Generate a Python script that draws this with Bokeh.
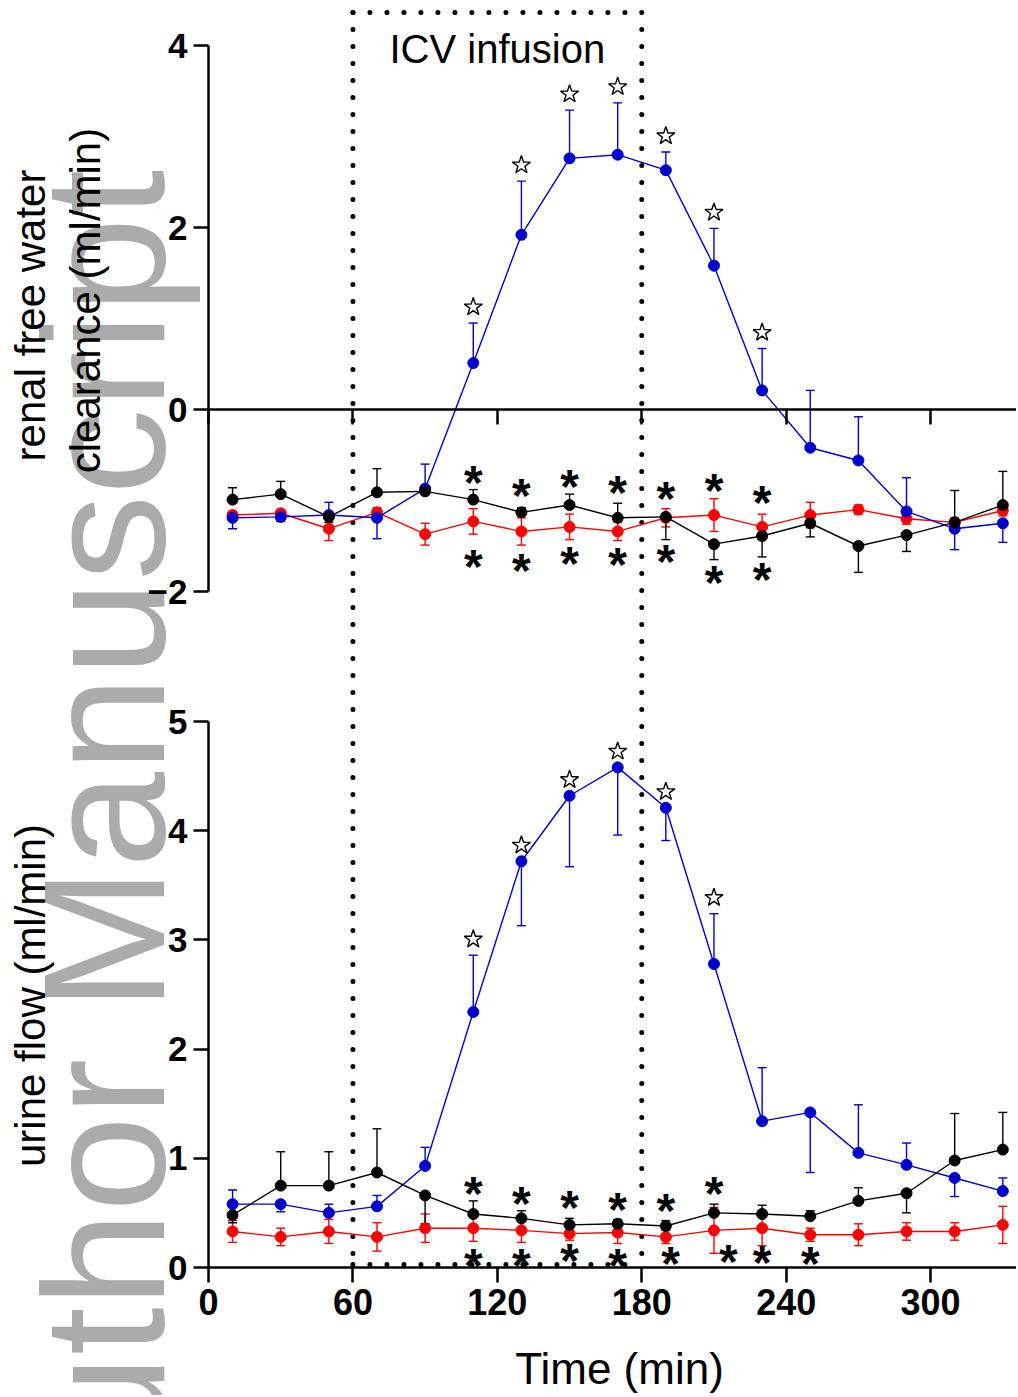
import math
from bokeh.plotting import figure
from bokeh.models import Range1d, FixedTicker, LinearAxis, Whisker, TeeHead, ColumnDataSource
from bokeh.embed import file_html
from bokeh.resources import INLINE
from bokeh.core.properties import value

# ------------------------------------------------------------------ data
time_min = [10, 30, 50, 70, 90, 110, 130, 150, 170, 190, 210, 230, 250, 270, 290, 310, 330]
x_ticks = [0, 60, 120, 180, 240, 300]
infusion = [60, 180]

# renal free water clearance (ml/min); error direction: 1 up, -1 down, 0 both
fwc_blue = [-1.19, -1.18, -1.16, -1.19, -0.87, 0.51, 1.92, 2.76, 2.80, 2.63, 1.58, 0.21, -0.42, -0.56, -1.12, -1.31, -1.25]
fwc_blue_sem = [0.12, 0.05, 0.14, 0.23, 0.27, 0.44, 0.59, 0.53, 0.57, 0.20, 0.41, 0.46, 0.63, 0.48, 0.37, 0.23, 0.21]
fwc_blue_dir = [-1, -1, 1, -1, 1, 1, 1, 1, 1, 1, 1, 1, 1, 1, 1, -1, -1]

fwc_black = [-0.99, -0.93, -1.18, -0.91, -0.90, -0.99, -1.13, -1.05, -1.19, -1.18, -1.48, -1.39, -1.25, -1.50, -1.38, -1.24, -1.05]
fwc_black_sem = [0.13, 0.14, 0.06, 0.26, 0.05, 0.11, 0.05, 0.12, 0.16, 0.25, 0.17, 0.23, 0.15, 0.29, 0.18, 0.35, 0.37]
fwc_black_dir = [1, 1, -1, 1, 1, 1, 1, 1, 1, -1, -1, -1, -1, -1, -1, 1, 1]

fwc_red = [-1.16, -1.14, -1.31, -1.13, -1.37, -1.23, -1.34, -1.29, -1.34, -1.19, -1.16, -1.29, -1.16, -1.10, -1.20, -1.24, -1.11]
fwc_red_sem = [0.04, 0.04, 0.13, 0.05, 0.12, 0.14, 0.15, 0.14, 0.10, 0.10, 0.18, 0.14, 0.14, 0.05, 0.06, 0.05, 0.06]
fwc_red_dir = [0] * 17

# urine flow (ml/min)
flow_blue = [0.58, 0.58, 0.50, 0.56, 0.93, 2.34, 3.72, 4.32, 4.58, 4.21, 2.78, 1.34, 1.42, 1.05, 0.94, 0.82, 0.70]
flow_blue_sem = [0.13, 0.07, 0.08, 0.10, 0.17, 0.52, 0.59, 0.65, 0.62, 0.30, 0.46, 0.49, 0.55, 0.44, 0.20, 0.17, 0.12]
flow_blue_dir = [1, -1, 1, 1, 1, 1, -1, -1, -1, -1, 1, 1, -1, 1, 1, -1, 1]

flow_black = [0.48, 0.75, 0.75, 0.87, 0.66, 0.49, 0.45, 0.39, 0.40, 0.38, 0.50, 0.49, 0.47, 0.61, 0.68, 0.98, 1.08]
flow_black_sem = [0.07, 0.31, 0.31, 0.40, 0.26, 0.12, 0.07, 0.06, 0.04, 0.05, 0.08, 0.08, 0.05, 0.12, 0.18, 0.43, 0.34]
flow_black_dir = [-1, 1, 1, 1, -1, 1, 1, 1, 1, 1, 1, 1, 1, 1, -1, 1, 1]

flow_red = [0.33, 0.28, 0.33, 0.28, 0.36, 0.36, 0.34, 0.31, 0.32, 0.28, 0.34, 0.36, 0.30, 0.30, 0.33, 0.33, 0.39]
flow_red_sem = [0.10, 0.08, 0.11, 0.13, 0.13, 0.12, 0.11, 0.06, 0.10, 0.06, 0.21, 0.16, 0.06, 0.10, 0.08, 0.08, 0.17]
flow_red_dir = [0] * 17

# significance marks
top_star_x = [110, 130, 150, 170, 190, 210, 230]
bot_star_x = [110, 130, 150, 170, 190, 210]
top_ast_above_x = [110, 130, 150, 170, 190, 210, 230]
top_ast_above_y = [-0.74, -0.88, -0.78, -0.85, -0.91, -0.82, -0.96]
top_ast_below_x = [110, 130, 150, 170, 190, 210, 230]
top_ast_below_y = [-1.66, -1.70, -1.63, -1.64, -1.60, -1.84, -1.80]
bot_ast_above_x = [110, 130, 150, 170, 190, 210]
bot_ast_above_y = [0.73, 0.64, 0.60, 0.59, 0.58, 0.73]
bot_ast_below_x = [110, 130, 150, 170, 192, 216, 230, 250]
bot_ast_below_y = [0.07, 0.07, 0.12, 0.07, 0.09, 0.11, 0.10, 0.09]

top_yticks = [-2, 0, 2, 4]
bot_yticks = [0, 1, 2, 3, 4, 5]

top_ylabel = ["renal free water", "clearance (ml/min)"]
bot_ylabel = "urine flow (ml/min)"
x_label = "Time (min)"
box_label = "ICV infusion"
watermark = "Author Manuscript"

# ------------------------------------------------------------------ layout (page pixels)
W, H = 1016, 1395
CANVAS_LEFT, CANVAS_TOP = 0, 0
T0_PX, X_PPU = 208, 2.407          # page x of t = 0, px per minute
BOT_ZERO_PX, BOT_PPU = 1267, 109.2  # urine flow axis
TOP_ZERO_PX, TOP_PPU = 409, 91.0    # free water clearance axis


def px2x(px):
    return (px - T0_PX) / X_PPU


def py2bot(py):
    return (BOT_ZERO_PX - py) / BOT_PPU


def py2top(py):
    return (TOP_ZERO_PX - py) / TOP_PPU


X_END = px2x(CANVAS_LEFT + W)

FONT = "Liberation Sans"
BLUE, RED, BLACK = "#0000cd", "#ff0000", "#000000"
GRAY = "#ababab"
DOT = dict(line_color="black", line_width=5, line_dash="0 17", line_cap="round")

p = figure(width=W, height=H, output_backend="svg", toolbar_location=None,
           x_range=Range1d(px2x(CANVAS_LEFT), X_END),
           y_range=Range1d(py2bot(CANVAS_TOP + H), py2bot(CANVAS_TOP)),
           x_axis_location=None, y_axis_location=None,
           min_border_left=0, min_border_right=0, min_border_top=0, min_border_bottom=0)
p.extra_y_ranges = {"top": Range1d(py2top(CANVAS_TOP + H), py2top(CANVAS_TOP))}
p.outline_line_color = None
p.background_fill_color = "white"
p.border_fill_color = "white"
p.grid.visible = False


def style_axis(ax, ticks, label_size):
    ax.ticker = FixedTicker(ticks=ticks)
    ax.minor_tick_line_color = None
    ax.major_tick_in = 0
    ax.major_tick_out = 15
    ax.major_tick_line_width = 2.5
    ax.axis_line_width = 2.5
    ax.major_label_standoff = 6
    ax.major_label_text_font = FONT
    ax.major_label_text_font_style = "bold"
    ax.major_label_text_font_size = label_size
    ax.major_label_text_color = "black"


def txt(x, y, t, size, angle=0.0, color="black", align="center", style="normal", y_range_name="default"):
    p.text(x=[x], y=[y], text=[t], angle=angle, text_font=value(FONT), text_font_size=value(size),
           text_font_style=style, text_align=align, text_baseline="middle", text_color=color,
           y_range_name=y_range_name)


# watermark (drawn first, behind everything)
txt(px2x(103), py2bot(1565), watermark, "172px", angle=math.pi / 2, color=GRAY, align="left")

# axes at fixed data locations
ax_top = LinearAxis(y_range_name="top", fixed_location=0, bounds=(top_yticks[0], top_yticks[-1]))
style_axis(ax_top, top_yticks, "35px")
p.add_layout(ax_top, "left")

ax_bot = LinearAxis(fixed_location=0, bounds=(bot_yticks[0], bot_yticks[-1]))
style_axis(ax_bot, bot_yticks, "35px")
p.add_layout(ax_bot, "left")

ax_x = LinearAxis(fixed_location=0, bounds=(0, X_END))
style_axis(ax_x, x_ticks, "36px")
p.add_layout(ax_x, "below")

ax_zero = LinearAxis(y_range_name="top", fixed_location=0, bounds=(0, X_END))
style_axis(ax_zero, x_ticks, "36px")
ax_zero.major_label_text_font_size = "0px"
ax_zero.major_label_text_alpha = 0
p.add_layout(ax_zero, "below")

# infusion box
box_top, box_bottom = py2bot(12), py2bot(1264)
p.segment(x0=infusion, y0=[box_top] * 2, x1=infusion, y1=[box_bottom] * 2, **DOT)
p.line(x=infusion, y=[box_top] * 2, **DOT)
p.line(x=infusion, y=[box_bottom] * 2, **DOT)
txt(sum(infusion) / 2, py2bot(48), box_label, "40px")


def add_series(xs, ys, sem, dirs, color, rn):
    lo = [y - s if d <= 0 else y for y, s, d in zip(ys, sem, dirs)]
    hi = [y + s if d >= 0 else y for y, s, d in zip(ys, sem, dirs)]
    src = ColumnDataSource(dict(x=xs, y=ys, lo=lo, hi=hi))
    p.add_layout(Whisker(base="x", lower="lo", upper="hi", source=src, y_range_name=rn,
                         line_color=color, line_width=1.4,
                         lower_head=TeeHead(size=9, line_color=color, line_width=1.4),
                         upper_head=TeeHead(size=9, line_color=color, line_width=1.4)))
    p.line("x", "y", source=src, line_color=color, line_width=1.4, y_range_name=rn)
    p.scatter("x", "y", source=src, size=11, fill_color=color, line_color=color, y_range_name=rn)


def star_y(xs_sig, ys, sem, dirs, gap):
    out = []
    for xv in xs_sig:
        i = time_min.index(xv)
        out.append(ys[i] + (sem[i] if dirs[i] >= 0 else 0) + gap)
    return out


def add_asterisks(xs, ys, rn):
    p.text(x=xs, y=ys, text=["*"] * len(xs), text_font=value(FONT), text_font_style="bold",
           text_font_size=value("48px"), text_align="center", text_baseline="middle",
           y_offset=6, text_color="black", y_range_name=rn)


# top panel
add_series(time_min, fwc_red, fwc_red_sem, fwc_red_dir, RED, "top")
add_series(time_min, fwc_blue, fwc_blue_sem, fwc_blue_dir, BLUE, "top")
add_series(time_min, fwc_black, fwc_black_sem, fwc_black_dir, BLACK, "top")
p.scatter(x=top_star_x, y=star_y(top_star_x, fwc_blue, fwc_blue_sem, fwc_blue_dir, 16 / TOP_PPU),
          marker="star", size=19, fill_color="white", line_color="black", line_width=1.4,
          y_range_name="top")
add_asterisks(top_ast_above_x, top_ast_above_y, "top")
add_asterisks(top_ast_below_x, top_ast_below_y, "top")

# bottom panel
add_series(time_min, flow_red, flow_red_sem, flow_red_dir, RED, "default")
add_series(time_min, flow_blue, flow_blue_sem, flow_blue_dir, BLUE, "default")
add_series(time_min, flow_black, flow_black_sem, flow_black_dir, BLACK, "default")
p.scatter(x=bot_star_x, y=star_y(bot_star_x, flow_blue, flow_blue_sem, flow_blue_dir, 16 / BOT_PPU),
          marker="star", size=19, fill_color="white", line_color="black", line_width=1.4)
add_asterisks(bot_ast_above_x, bot_ast_above_y, "default")
add_asterisks(bot_ast_below_x, bot_ast_below_y, "default")

# axis titles
txt(px2x(30), py2bot(315), top_ylabel[0], "42px", angle=math.pi / 2)
txt(px2x(85), py2bot(300), top_ylabel[1], "42px", angle=math.pi / 2)
txt(px2x(30), py2bot(995), bot_ylabel, "42px", angle=math.pi / 2)
txt(px2x(619), py2bot(1368), x_label, "44px")

open("out.html", "w").write(file_html(p, INLINE))
